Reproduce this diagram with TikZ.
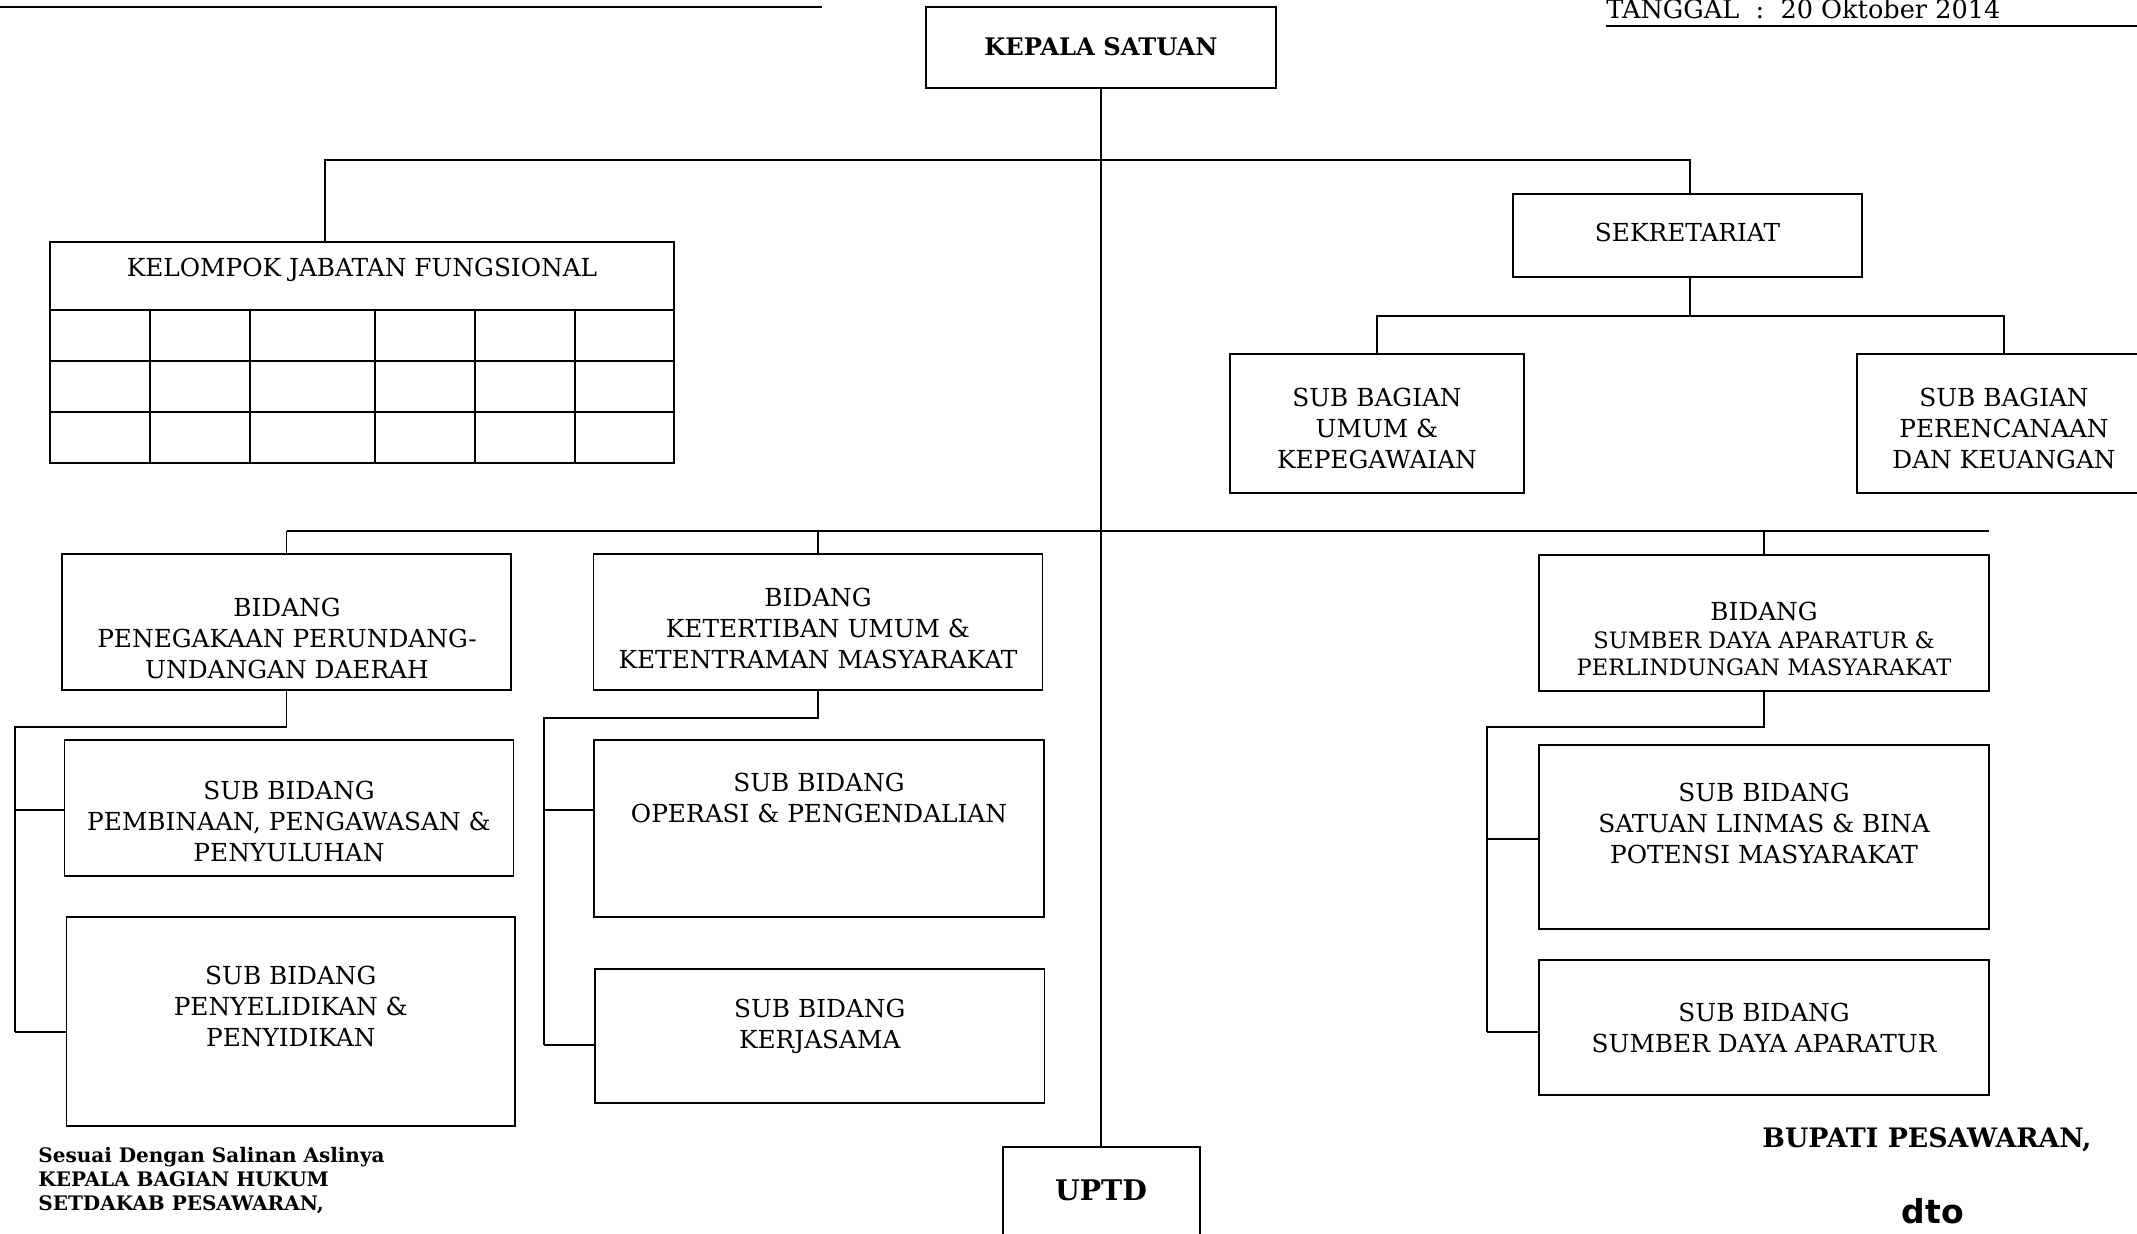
\documentclass[tikz,border=0pt]{standalone}
\usepackage{fontspec}
\setmainfont{DejaVu Serif}
\newfontfamily\dvsans{DejaVu Sans}
\begin{document}
\begin{tikzpicture}[x=0.5pt,y=-0.5pt,
  box/.style={draw,line width=0.8pt,rectangle,inner sep=0pt},
  conn/.style={line width=0.75pt},
  rule/.style={line width=1.1pt},
  txt/.style={align=center,inner sep=0pt,font=\fontsize{12.4}{15.5}\selectfont},
  smtxt/.style={align=center,inner sep=0pt,font=\fontsize{11.3}{13.5}\selectfont},
  btxt/.style={inner sep=0pt,font=\bfseries\fontsize{12.1}{14}\selectfont}]
\useasboundingbox (0,0) rectangle (2137,1233);
\clip (0,0) rectangle (2137,1233);

% header rules and date
\coordinate (hl) at (0,7);
\coordinate (hr) at (822,7);
\draw[rule] (hl) -- (hr);
\node[anchor=base west,inner sep=0pt,font=\fontsize{12.8}{15}\selectfont] (tgl) at (1606,18) {TANGGAL\ \ :\ \ 20 Oktober 2014};
\coordinate (tglR) at (2137,26);
\draw[conn] (tgl.west |- tglR) -- (tglR);

% boxes
\node[box,minimum width=175pt,minimum height=40.5pt] (kepala) at (1101,47.5) {};
\node[box,minimum width=312pt,minimum height=110.5pt] (kjf) at (362,352.5) {};
\node[box,minimum width=174.5pt,minimum height=41.5pt] (sekr) at (1687.5,235.5) {};
\node[box,minimum width=147pt,minimum height=69.5pt] (sbu) at (1377,423.5) {};
\node[box,minimum width=147pt,minimum height=69.5pt] (sbp) at (2004,423.5) {};
\node[box,minimum width=224.5pt,minimum height=68pt] (bpen) at (286.5,622) {};
\node[box,minimum width=224.5pt,minimum height=68pt] (sb1) at (289,808) {};
\node[box,minimum width=224.2pt,minimum height=104.5pt] (sb2) at (290.8,1021.5) {};
\node[box,minimum width=224.5pt,minimum height=68pt] (bket) at (818,622) {};
\node[box,minimum width=225pt,minimum height=88.5pt] (sb3) at (819,828.5) {};
\node[box,minimum width=224.75pt,minimum height=67pt] (sb4) at (819.75,1036) {};
\node[box,minimum width=225pt,minimum height=68pt] (bsda) at (1764,623) {};
\node[box,minimum width=225pt,minimum height=92pt] (sb5) at (1764,837) {};
\node[box,minimum width=225pt,minimum height=67.5pt] (sb6) at (1764,1027.5) {};
\node[box,minimum width=98.5pt,minimum height=70pt] (uptd) at (1101.5,1217) {};

% table inside KJF
\foreach \yy in {310,361,412}
  \draw[box] (kjf.west |- 0,\yy) -- (kjf.east |- 0,\yy);
\foreach \xx in {150,250,375,475,575}
  \draw[conn] (\xx,310) -- (\xx,0 |- kjf.south);

% texts
\node[btxt] (kepT) at (1101,47) {KEPALA SATUAN};
\node[txt] (kjfT) at (362,270) {KELOMPOK JABATAN FUNGSIONAL};
\node[txt] (sekT) at (1687.5,232) {SEKRETARIAT};
\node[txt] (sbuT) at (1377,428) {SUB BAGIAN\\UMUM \&\\KEPEGAWAIAN};
\node[txt] (sbpT) at (2004,428) {SUB BAGIAN\\PERENCANAAN\\DAN KEUANGAN};
\node[txt] (bpenT) at (287,638) {BIDANG\\PENEGAKAAN PERUNDANG-\\UNDANGAN DAERAH};
\node[txt] (bketT) at (818,628) {BIDANG\\KETERTIBAN UMUM \&\\KETENTRAMAN MASYARAKAT};
\node[txt] (bsdaT1) at (1764,611) {BIDANG};
\node[smtxt] (bsdaT2) at (1764,654) {SUMBER DAYA APARATUR \&\\PERLINDUNGAN MASYARAKAT};
\node[txt] (sb1T) at (289,821) {SUB BIDANG\\PEMBINAAN, PENGAWASAN \&\\PENYULUHAN};
\node[txt] (sb2T) at (290.8,1006) {SUB BIDANG\\PENYELIDIKAN \&\\PENYIDIKAN};
\node[txt] (sb3T) at (819,798) {SUB BIDANG\\OPERASI \& PENGENDALIAN};
\node[txt] (sb4T) at (819.75,1026) {SUB BIDANG\\KERJASAMA};
\node[txt] (sb5T) at (1764,823) {SUB BIDANG\\SATUAN LINMAS \& BINA\\POTENSI MASYARAKAT};
\node[txt] (sb6T) at (1764,1028) {SUB BIDANG\\SUMBER DAYA APARATUR};
\node[inner sep=0pt,font=\bfseries\fontsize{14.2}{17}\selectfont] (uptdT) at (1101,1190) {UPTD};

% connectors
\coordinate (busL) at (325,160);
\coordinate (busR) at (1690,160);
\draw[conn] (kepala.south) -- (kepala.south |- uptd.north);
\draw[rule] (busL |- kjf.north) -- (busL) -- (busR) -- (busR |- sekr.north);
\coordinate (sk) at (1690,316);
\draw[conn] (busR |- sekr.south) -- (sk);
\draw[conn] (sbu.north) -- (sbu.north |- sk) -- (sbp.north |- sk) -- (sbp.north);

\coordinate (mbL) at (287,531);
\coordinate (mbR) at (1989,531);
\draw[conn] (mbL) -- (mbR);
\draw[conn] (bpen.north |- mbL) -- (bpen.north);
\draw[conn] (bket.north |- mbL) -- (bket.north);
\draw[conn] (bsda.north |- mbL) -- (bsda.north);

\coordinate (lg) at (15,727);
\coordinate (l1) at (15,810);
\coordinate (l2) at (15,1032);
\draw[conn] (bpen.south) |- (lg) -- (l2);
\draw[conn] (l1) -- (l1 -| sb1.west);
\draw[conn] (l2) -- (l2 -| sb2.west);

\coordinate (mg) at (544,718);
\coordinate (m1) at (544,810);
\coordinate (m2) at (544,1045);
\draw[conn] (bket.south) |- (mg) -- (m2);
\draw[conn] (m1) -- (m1 -| sb3.west);
\draw[conn] (m2) -- (m2 -| sb4.west);

\coordinate (rg) at (1487,727);
\coordinate (r1) at (1487,839);
\coordinate (r2) at (1487,1032);
\draw[conn] (bsda.south) |- (rg) -- (r2);
\draw[conn] (r1) -- (r1 -| sb5.west);
\draw[conn] (r2) -- (r2 -| sb6.west);

% signatures
\node[anchor=north west,align=left,inner sep=0pt,font=\bfseries\fontsize{10}{12}\selectfont] (sesuai) at (38,1147) {Sesuai Dengan Salinan Aslinya\\KEPALA BAGIAN HUKUM\\SETDAKAB PESAWARAN,};
\node[anchor=base west,inner sep=0pt,font=\bfseries\fontsize{13.4}{16}\selectfont] (bupati) at (1762,1147) {BUPATI PESAWARAN,};
\node[anchor=base,inner sep=0pt,font=\dvsans\bfseries\fontsize{16.5}{19}\selectfont] (dto) at (1933,1223) {dto};
\end{tikzpicture}
\end{document}
